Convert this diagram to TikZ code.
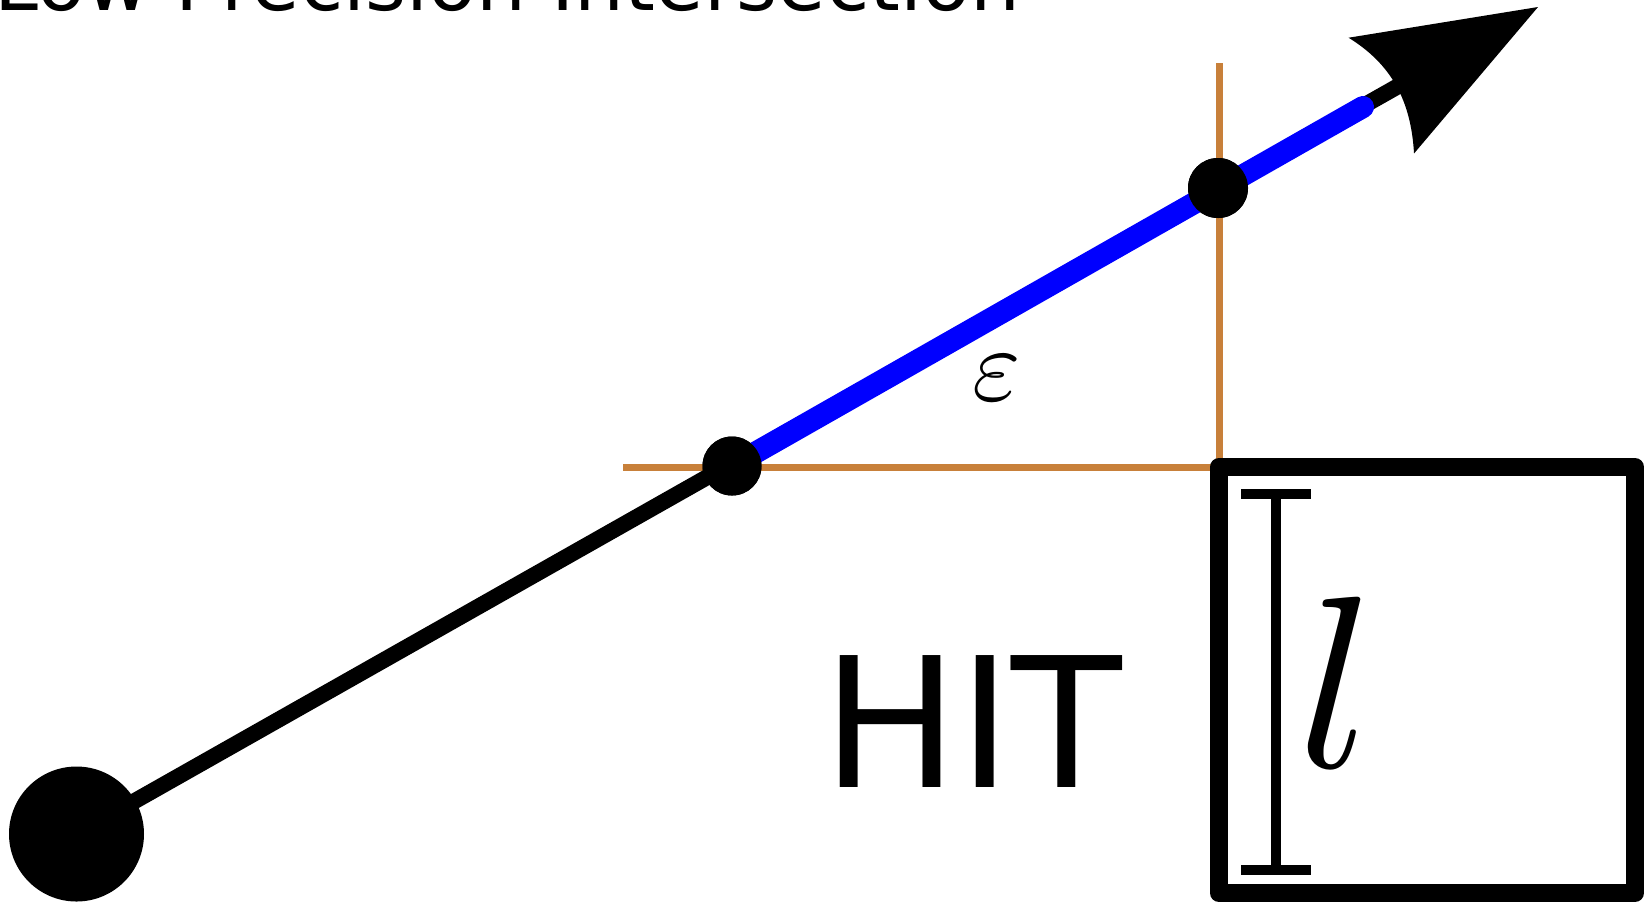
\documentclass[tikz,border=0pt]{standalone}
\usepackage{fontspec}
\newfontfamily\dejavu{DejaVu Sans}
\definecolor{guide}{RGB}{200,128,58}
\begin{document}
\begin{tikzpicture}[x=0.5pt,y=-0.5pt,
  dot/.style={circle,fill=black,inner sep=0pt,minimum size=#1},
  ray/.style={line width=8pt,black},
  seg/.style={line width=11pt,blue,line cap=round},
  guideline/.style={line width=3.5pt,guide},
  hitbox/.style={draw,line width=9pt,line join=round},
  bar/.style={line width=5pt},
  lbl/.style={inner sep=0pt}]
\useasboundingbox (0,0) rectangle (1649,902);
\clip (0,0) rectangle (1649,902);
% key points
\coordinate (S) at (76.5,834);
\coordinate (T) at (1538,7);
\coordinate (A) at (1407.4,80.9);
\coordinate (E) at (1363,107);
\coordinate (H0) at (623,467);
\coordinate (C) at (1219,467);
\coordinate (V0) at (1219,63);
\coordinate (D) at (1635,893);
\coordinate (B1) at (1348.6,37.7);
\coordinate (B2) at (1414,153.5);
\coordinate (BC1) at (1391,64);
\coordinate (BC2) at (1411,100);
% guides
\draw[guideline] (H0) -- (C);
\draw[guideline] (V0) -- (C);
% ray
\draw[ray] (S) -- (A);
\fill (T) -- (B1) .. controls (BC1) and (BC2) .. (B2) -- cycle;
% dots
\node[dot=67.5pt] (start) at (S) {};
\node[dot=29.5pt] (mid) at (732,466) {};
\node[dot=30pt] (top) at (1218,188) {};
\draw[seg] (mid.center) -- (E);
\node[dot=29.5pt] at (mid.center) {};
\node[dot=30pt] at (top.center) {};
% box
\draw[hitbox] (C) rectangle (D);
\draw[bar] (1241,494) -- (1311,494);
\draw[bar] (1241,870) -- (1311,870);
\draw[bar] (1276,494) -- (1276,870);
% texts
\node[lbl,anchor=base west,font=\dejavu\fontsize{39.4pt}{40pt}\selectfont] (title) at (-5.6,10) {Low Precision Intersection};
\node[lbl,anchor=base west,font=\dejavu\fontsize{90.5pt}{95pt}\selectfont] (hit) at (822,787) {HIT};
\node[lbl,scale=5.2] (eps) at (997,378) {$\varepsilon$};
\node[lbl,anchor=base,scale=12.27] (len) at (1337,767) {$l$};
\end{tikzpicture}
\end{document}
